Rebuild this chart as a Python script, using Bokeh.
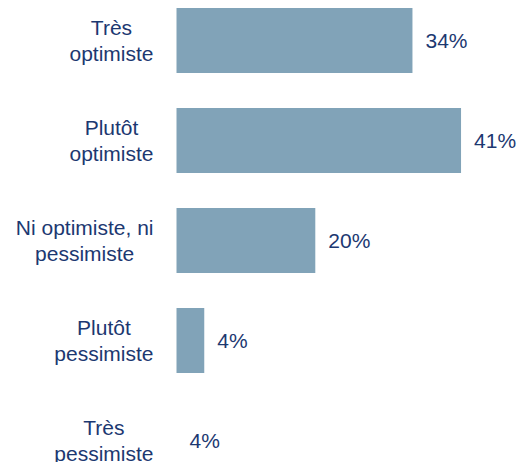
from bokeh.plotting import figure
from bokeh.models import ColumnDataSource, Range1d
from bokeh.core.properties import value
from bokeh.embed import file_html
from bokeh.resources import INLINE

categories = ["Très\noptimiste", "Plutôt\noptimiste", "Ni optimiste, ni\npessimiste",
              "Plutôt\npessimiste", "Très\npessimiste"]
values = [34, 41, 20, 4, 0]
value_labels = ["34%", "41%", "20%", "4%", "4%"]

BAR_COLOR = "#81A3B8"
TEXT_COLOR = "#1C3871"
FONT = "Liberation Sans"
FS = 21  # px

W, H = 517, 462
PX_PER_UNIT = 6.94       # px per percent
BAR_X0 = 176             # px from left of plot where bars start
ROW = 100                # px per row
FIRST_CENTER = 40        # px from top

# Arial-like widths (per 1000 em) to centre multi-line labels in a right-aligned block
CW = {'a': 556, 'b': 556, 'c': 500, 'd': 556, 'e': 556, 'f': 278, 'g': 556, 'h': 556,
      'i': 222, 'j': 222, 'k': 500, 'l': 222, 'm': 833, 'n': 556, 'o': 556, 'p': 556,
      'q': 556, 'r': 333, 's': 500, 't': 278, 'u': 556, 'v': 500, 'w': 722, 'x': 500,
      'y': 500, 'z': 500, ' ': 278, ',': 278, 'T': 611, 'N': 722, 'P': 667, 'è': 556,
      'ô': 556}


def text_w(s):
    return sum(CW.get(ch, 556) for ch in s) * FS / 1000.0


x_start = -BAR_X0 / PX_PER_UNIT
x_end = (W - BAR_X0) / PX_PER_UNIT
y_top = -FIRST_CENTER / ROW
y_bot = y_top + H / ROW

pos = list(range(len(categories)))
block_right_px = 153  # right edge of label block, px from plot left
label_x = []
for c in categories:
    w = max(text_w(line) for line in c.split("\n"))
    label_x.append((block_right_px - w / 2 - BAR_X0) / PX_PER_UNIT)

src = ColumnDataSource(dict(y=pos, v=values, lab=value_labels, cat=categories, lx=label_x))

p = figure(width=W, height=H, output_backend="svg", toolbar_location=None,
           x_range=Range1d(x_start, x_end), y_range=Range1d(y_bot, y_top),
           x_axis_location=None, y_axis_location=None, min_border=0)
p.grid.visible = False
p.outline_line_color = None
p.background_fill_color = "white"
p.border_fill_color = "white"

p.hbar(y="y", left=0, right="v", height=0.65, source=src,
       fill_color=BAR_COLOR, line_color=None)

p.text(x="v", y="y", text="lab", source=src, x_offset=13,
       text_font=value(FONT), text_font_size=f"{FS}px", text_color=TEXT_COLOR,
       text_align="left", text_baseline="middle")

p.text(x="lx", y="y", text="cat", source=src,
       text_font=value(FONT), text_font_size=f"{FS}px", text_color=TEXT_COLOR,
       text_align="center", text_baseline="middle", text_line_height=1.15)

open("out.html", "w").write(file_html(p, INLINE))
